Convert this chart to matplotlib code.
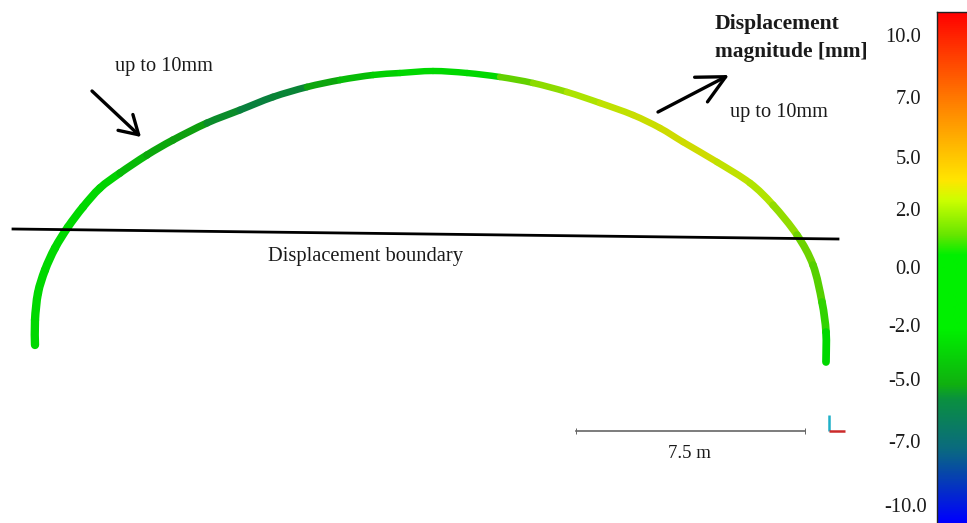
import numpy as np
import matplotlib
matplotlib.use("Agg")
import matplotlib.pyplot as plt
from matplotlib.collections import PathCollection
from matplotlib.colors import LinearSegmentedColormap
from matplotlib.path import Path

plt.rcParams['font.family'] = ['Liberation Serif', 'DejaVu Serif']

# arch profile (image pixels) and displacement in mm along it
arch_x = [35, 35, 38, 45, 55, 68, 83, 100, 120, 147, 173, 207, 240, 273, 307, 340, 373, 400, 433, 467, 500, 533, 567,
          600, 633, 660, 683, 717, 750, 773, 797, 813, 822, 826, 826]
arch_y = [345, 320, 293, 270, 248, 227, 207, 188, 173, 155, 140, 123, 110, 97, 87, 80, 75, 73, 71, 73, 77, 83, 92,
          103, 115, 128, 142, 162, 183, 205, 235, 265, 302, 332, 362]
arch_disp = [0.5, 0.0, -0.5, -1.0, -1.0, -1.2, -1.5, -2.0, -3.0, -4.6, -5.0, -5.3, -5.6, -5.8, -5.4, -4.4, -3.0, -2.4,
             -1.6, -0.4, 1.0, 1.5, 2.0, 2.5, 2.9, 3.1, 3.2, 3.0, 2.6, 2.2, 1.5, 1.2, 1.0, 0.6, -0.2]

# colour scale
scale_ticks = [10.0, 7.0, 5.0, 2.0, 0.0, -2.0, -5.0, -7.0, -10.0]
scale_labels = ["10.0", "7.0", "5.0", "2.0", "0.0", "-2.0", "-5.0", "-7.0", "-10.0"]
tick_y = [36, 98, 157, 210, 268, 325, 380, 441, 506]

# image row of the colour bar where each colour sits, top to bottom
bar_top, bar_bottom = 12, 523
stop_y = [12, 40, 110, 180, 200, 235, 255, 330, 385, 400, 450, 523]
stop_colors = ['#ff0000', '#ff2a00', '#ff8a00', '#ffe600', '#ccff00', '#66e600', '#00f000', '#00f000',
               '#10b010', '#0a9040', '#0a6a80', '#0000ff']

fracs = (np.array(stop_y) - bar_top) / (bar_bottom - bar_top)
cmap = LinearSegmentedColormap.from_list('disp', list(zip(1 - fracs[::-1], stop_colors[::-1])))

fig = plt.figure(figsize=(9.67, 5.23), dpi=100)
ax = fig.add_axes([0, 0, 1, 1])
ax.set_xlim(0, 967)
ax.set_ylim(523, 0)
ax.axis('off')

# value -> position on the colour bar, through the labelled ticks
def to_cmap(v):
    y = np.interp(v, scale_ticks[::-1], tick_y[::-1])
    return 1 - (y - bar_top) / (bar_bottom - bar_top)

# one smooth bezier piece between each pair of read points, so the arch has no corners
pts = np.column_stack([arch_x, arch_y]).astype(float)
paths = []
for i in range(len(pts) - 1):
    p0 = pts[max(i - 1, 0)]
    p1 = pts[i]
    p2 = pts[i + 1]
    p3 = pts[min(i + 2, len(pts) - 1)]
    paths.append(Path([p1, p1 + (p2 - p0) / 6, p2 - (p3 - p1) / 6, p2],
                      [Path.MOVETO, Path.CURVE4, Path.CURVE4, Path.CURVE4]))

mid_disp = (np.array(arch_disp[:-1]) + np.array(arch_disp[1:])) / 2
colors = cmap(to_cmap(mid_disp))
colors[:, :3] *= 0.9     # the point cloud is speckled, so it reads a bit darker than the bar
widths = np.interp(np.array(arch_x[:-1]), [35, 120, 400, 700, 830], [6.0, 5.4, 4.6, 4.8, 5.6])
arch = PathCollection(paths, facecolors='none', edgecolors=colors, linewidths=widths, capstyle='round', zorder=2)
ax.add_collection(arch)

# displacement boundary
ax.plot([13, 838], [229, 239], color='black', lw=2.0, zorder=3)
ax.text(366, 257, "Displacement boundary", fontsize=14.8, ha='center', va='center', color='#1a1a1a')

# arrows
ax.annotate("", xy=(141, 137), xytext=(92, 91),
            arrowprops=dict(arrowstyle="->,head_length=0.65,head_width=0.39", color='black', lw=2.4,
                            mutation_scale=20, shrinkA=0, shrinkB=0))
ax.annotate("", xy=(729, 75), xytext=(658, 112),
            arrowprops=dict(arrowstyle="->,head_length=1.0,head_width=0.5", color='black', lw=2.4,
                            mutation_scale=20, shrinkA=0, shrinkB=0))
ax.text(164, 67, "up to 10mm", fontsize=14.6, ha='center', va='center', color='#1a1a1a')
ax.text(779, 113, "up to 10mm", fontsize=14.6, ha='center', va='center', color='#1a1a1a')
ax.text(715, 24, "Displacement", fontsize=15.6, fontweight='bold', ha='left', va='center', color='#1a1a1a')
ax.text(715, 52, "magnitude [mm]", fontsize=15.4, fontweight='bold', ha='left', va='center', color='#1a1a1a')

# scale bar + axis triad
ax.plot([576, 805], [431, 431], color='#666666', lw=1.2, marker='|', ms=4, mew=0.7)
ax.text(689, 453, "7.5 m", fontsize=13.5, ha='center', va='center', color='#1a1a1a')
ax.plot([829, 829], [415, 431], color='#1fb0c8', lw=1.8, solid_capstyle='butt')
ax.plot([829, 845], [431, 431], color='#cc2a2a', lw=1.8, solid_capstyle='butt')

# colour bar
grad = np.linspace(1, 0, 512).reshape(-1, 1)
ax.imshow(grad, cmap=cmap, vmin=0, vmax=1, extent=(937, 967, bar_bottom, bar_top), aspect='auto', zorder=1)
ax.set_xlim(0, 967)
ax.set_ylim(523, 0)
ax.plot([937, 937], [bar_bottom, bar_top], color='#222222', lw=1.0, zorder=2)
ax.plot([937, 967], [bar_top, bar_top], color='#222222', lw=1.0, zorder=2)
for lab, y in zip(scale_labels, tick_y):
    ax.text(927 if lab == "-10.0" else 921, y + 2, lab, fontsize=14.8, ha='right', va='center', color='#1a1a1a')

fig.savefig("out.png", dpi=100)
